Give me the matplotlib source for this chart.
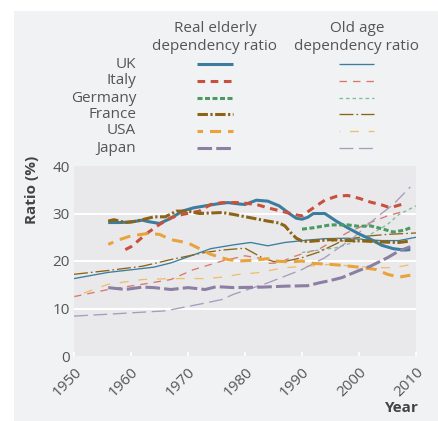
import matplotlib
matplotlib.use("Agg")
import matplotlib.pyplot as plt
from matplotlib.lines import Line2D
from matplotlib.patches import Rectangle

plt.rcParams['font.family'] = ['Open Sans', 'DejaVu Sans']
plt.rcParams['lines.scale_dashes'] = False

# ---------------- data ----------------
countries = ["UK", "Italy", "Germany", "France", "USA", "Japan"]

uk_real_years = [1956, 1958, 1960, 1962, 1963, 1965, 1967, 1969, 1971, 1973, 1975, 1977, 1979, 1980,
                 1982, 1984, 1986, 1988, 1989, 1990, 1991, 1992, 1994, 1996, 1998, 2000, 2002, 2004,
                 2006, 2008, 2009]
uk_real = [28.1, 28.1, 28.2, 28.6, 28.3, 27.9, 29.0, 30.5, 31.2, 31.6, 32.0, 32.3, 32.0, 31.9,
           32.8, 32.6, 31.6, 29.8, 29.0, 28.8, 29.2, 30.0, 30.0, 28.4, 27.0, 25.7, 24.6, 23.3,
           22.6, 22.3, 22.4]

italy_real_years = [1959, 1960, 1963, 1965, 1967, 1969, 1972, 1974, 1976, 1979, 1982, 1984, 1987,
                    1989, 1990, 1992, 1994, 1996, 1998, 2000, 2002, 2004, 2005, 2006, 2008]
italy_real = [22.4, 23.0, 26.0, 27.7, 29.1, 29.8, 30.5, 31.9, 32.3, 32.3, 31.9, 31.2, 30.3,
              29.7, 29.5, 31.2, 32.8, 33.6, 33.8, 33.2, 32.4, 31.8, 31.4, 31.4, 32.1]

germany_real_years = [1990, 1992, 1995, 1998, 2000, 2002, 2004, 2006, 2008, 2009]
germany_real = [26.7, 27.0, 27.6, 27.6, 27.3, 27.4, 26.8, 26.1, 26.5, 27.0]

france_real_years = [1956, 1957, 1959, 1961, 1964, 1966, 1968, 1970, 1972, 1974, 1976, 1978, 1981,
                     1984, 1986, 1987, 1988, 1989, 1990, 1991, 1993, 1995, 1998, 2001, 2004, 2007, 2009]
france_real = [28.4, 28.7, 28.1, 28.4, 29.3, 29.3, 30.5, 30.5, 30.0, 30.1, 30.2, 29.8, 29.1,
               28.4, 28.0, 27.4, 26.0, 24.8, 24.2, 24.1, 24.3, 24.5, 24.3, 24.2, 24.0, 23.9, 24.2]

usa_real_years = [1956, 1958, 1960, 1963, 1965, 1967, 1970, 1972, 1974, 1977, 1979, 1982, 1984,
                  1985, 1988, 1990, 1992, 1996, 2000, 2003, 2005, 2007, 2009]
usa_real = [23.5, 24.5, 25.3, 25.8, 25.6, 24.5, 23.8, 22.6, 21.4, 20.3, 20.0, 20.2, 20.5,
            20.0, 19.8, 20.0, 19.5, 19.2, 18.7, 18.2, 17.2, 16.6, 17.0]

japan_real_years = [1956, 1959, 1962, 1964, 1967, 1970, 1973, 1975, 1978, 1983, 1987, 1991, 1993,
                    1995, 1997, 2000, 2002, 2005, 2007, 2009]
japan_real = [14.4, 14.0, 14.5, 14.4, 14.0, 14.4, 14.0, 14.6, 14.4, 14.5, 14.7, 14.8, 15.4,
              15.9, 16.5, 18.0, 18.9, 20.7, 22.1, 23.0]

uk_old_years = [1950, 1956, 1964, 1967, 1971, 1974, 1978, 1981, 1984, 1987, 1991, 1994, 1998,
                2001, 2004, 2007, 2010]
uk_old = [16.3, 17.6, 18.7, 19.6, 21.3, 22.6, 23.4, 23.9, 23.2, 23.9, 24.4, 24.7, 24.8,
          24.5, 24.3, 24.3, 25.0]

italy_old_years = [1950, 1956, 1962, 1967, 1971, 1976, 1980, 1983, 1984, 1986, 1988, 1990, 1993,
                   1998, 2002, 2005, 2008]
italy_old = [12.5, 14.0, 15.1, 16.1, 18.2, 20.0, 21.1, 20.5, 19.5, 19.6, 20.7, 21.5, 22.5,
             26.0, 28.1, 29.5, 30.5]

germany_old_years = [1990, 1993, 1996, 1999, 2002, 2005, 2007, 2010]
germany_old = [21.8, 22.3, 22.8, 23.9, 25.6, 27.7, 29.8, 31.6]

france_old_years = [1950, 1956, 1962, 1967, 1973, 1976, 1980, 1983, 1985, 1987, 1990, 1993, 1997,
                    1999, 2002, 2005, 2010]
france_old = [17.2, 18.0, 18.9, 20.3, 21.8, 22.3, 22.7, 20.7, 19.9, 19.9, 20.7, 21.9, 24.2,
              24.8, 25.3, 25.6, 25.9]

usa_old_years = [1950, 1956, 1962, 1967, 1973, 1976, 1979, 1982, 1987, 1991, 1995, 1999, 2003,
                 2006, 2010]
usa_old = [12.5, 15.1, 16.1, 16.3, 16.3, 16.6, 17.2, 17.5, 18.6, 18.9, 19.3, 18.9, 18.6,
           18.6, 19.4]

japan_old_years = [1950, 1956, 1966, 1972, 1976, 1978, 1984, 1990, 1994, 1999, 2003, 2006, 2009]
japan_old = [8.4, 8.8, 9.5, 10.9, 11.9, 13.0, 15.4, 18.2, 20.7, 24.9, 29.1, 31.9, 35.6]

x_ticks = [1950, 1960, 1970, 1980, 1990, 2000, 2010]
y_ticks = [0, 10, 20, 30, 40]

real_series = [(uk_real_years, uk_real), (italy_real_years, italy_real),
               (germany_real_years, germany_real), (france_real_years, france_real),
               (usa_real_years, usa_real), (japan_real_years, japan_real)]
old_series = [(uk_old_years, uk_old), (italy_old_years, italy_old),
              (germany_old_years, germany_old), (france_old_years, france_old),
              (usa_old_years, usa_old), (japan_old_years, japan_old)]

# ---------------- styles ----------------
colors = ["#3b7d9e", "#c9503c", "#4b9a62", "#8b6416", "#e9a33b", "#8c7fa3"]
thin_colors = ["#3b7d9e", "#d9786a", "#7dbd92", "#8b6416", "#f0bd6c", "#a69cbb"]
thick_dash = [None, (0, (5.5, 4.0)), (0, (3.6, 1.8)), (0, (7.5, 1.8, 1.6, 1.8)),
              (4, (8, 5)), (0, (10.5, 3))]
thin_dash = [None, (0, (5.4, 4.3)), (0, (2.5, 2.2)), (0, (10, 2.2, 1.2, 2.2)),
             (6, (6.5, 7)), (0, (10, 4))]
lw_thick = 2.2
lw_thin = 0.95

W, H = 439, 421
fig = plt.figure(figsize=(W / 100, H / 100), dpi=100, facecolor="white")
fig.add_artist(Rectangle((14 / W, 0), 1 - 14 / W, 1 - 11 / H, transform=fig.transFigure,
                         facecolor="#f1f2f4", edgecolor="none", zorder=-10))

ax = fig.add_axes([74 / W, 1 - 356 / H, (416 - 74) / W, (356 - 166) / H])
ax.set_facecolor("#e9e9ec")
for s in ax.spines.values():
    s.set_visible(False)
ax.set_xlim(1950, 2010)
ax.set_ylim(0, 40)
ax.set_yticks(y_ticks)
ax.set_xticks(x_ticks)
ax.set_yticklabels([str(v) for v in y_ticks], fontsize=11, color="#555555")
ax.set_xticklabels([str(v) for v in x_ticks], fontsize=11, color="#555555",
                   rotation=45, ha="right", va="top", rotation_mode="anchor")
ax.tick_params(axis="y", length=0, pad=3)
ax.tick_params(axis="x", direction="in", length=3, width=1.2, color="white", pad=6)
for v in [10, 20, 30]:
    ax.axhline(v, color="white", lw=1.4, zorder=0.5)

def draw(a, x, y, color, lw, dash, alpha=1.0):
    ln, = a.plot(x, y, color=color, lw=lw, alpha=alpha, solid_capstyle="butt",
                 dash_capstyle="butt")
    if dash is not None:
        ln.set_linestyle(dash)
    return ln

for i in range(6):
    xs, ys = old_series[i]
    draw(ax, xs, ys, thin_colors[i], lw_thin, thin_dash[i])
for i in range(6):
    xs, ys = real_series[i]
    draw(ax, xs, ys, colors[i], lw_thick, thick_dash[i])

# ---------------- legend table ----------------
def fx(px):
    return px / W

def fy(py):
    return 1 - py / H

txt_col = "#555555"
fig.text(fx(215), fy(28), "Real elderly", ha="center", va="center", fontsize=11, color=txt_col)
fig.text(fx(215), fy(47), "dependency ratio", ha="center", va="center", fontsize=11, color=txt_col)
fig.text(fx(357), fy(28), "Old age", ha="center", va="center", fontsize=11, color=txt_col)
fig.text(fx(357), fy(47), "dependency ratio", ha="center", va="center", fontsize=11, color=txt_col)

row_y = [64, 81, 98, 114, 131, 148]
for i, name in enumerate(countries):
    fig.text(fx(136), fy(row_y[i]), name, ha="right", va="center", fontsize=11, color=txt_col)
    l1 = Line2D([fx(197), fx(233)], [fy(row_y[i]), fy(row_y[i])], transform=fig.transFigure,
                color=colors[i], lw=lw_thick, solid_capstyle="butt", dash_capstyle="butt")
    if thick_dash[i] is not None:
        l1.set_linestyle(thick_dash[i])
    fig.add_artist(l1)
    l2 = Line2D([fx(339), fx(374)], [fy(row_y[i]), fy(row_y[i])], transform=fig.transFigure,
                color=thin_colors[i], lw=lw_thin, solid_capstyle="butt", dash_capstyle="butt")
    if thin_dash[i] is not None:
        l2.set_linestyle(thin_dash[i])
    fig.add_artist(l2)

fig.text(fx(32), fy(190), "Ratio (%)", rotation=90, ha="center", va="center",
         fontsize=11, fontweight="bold", color="#444444")
fig.text(fx(419), fy(408), "Year", ha="right", va="center",
         fontsize=11, fontweight="bold", color="#444444")

fig.savefig("out.png", dpi=100, facecolor="white")
